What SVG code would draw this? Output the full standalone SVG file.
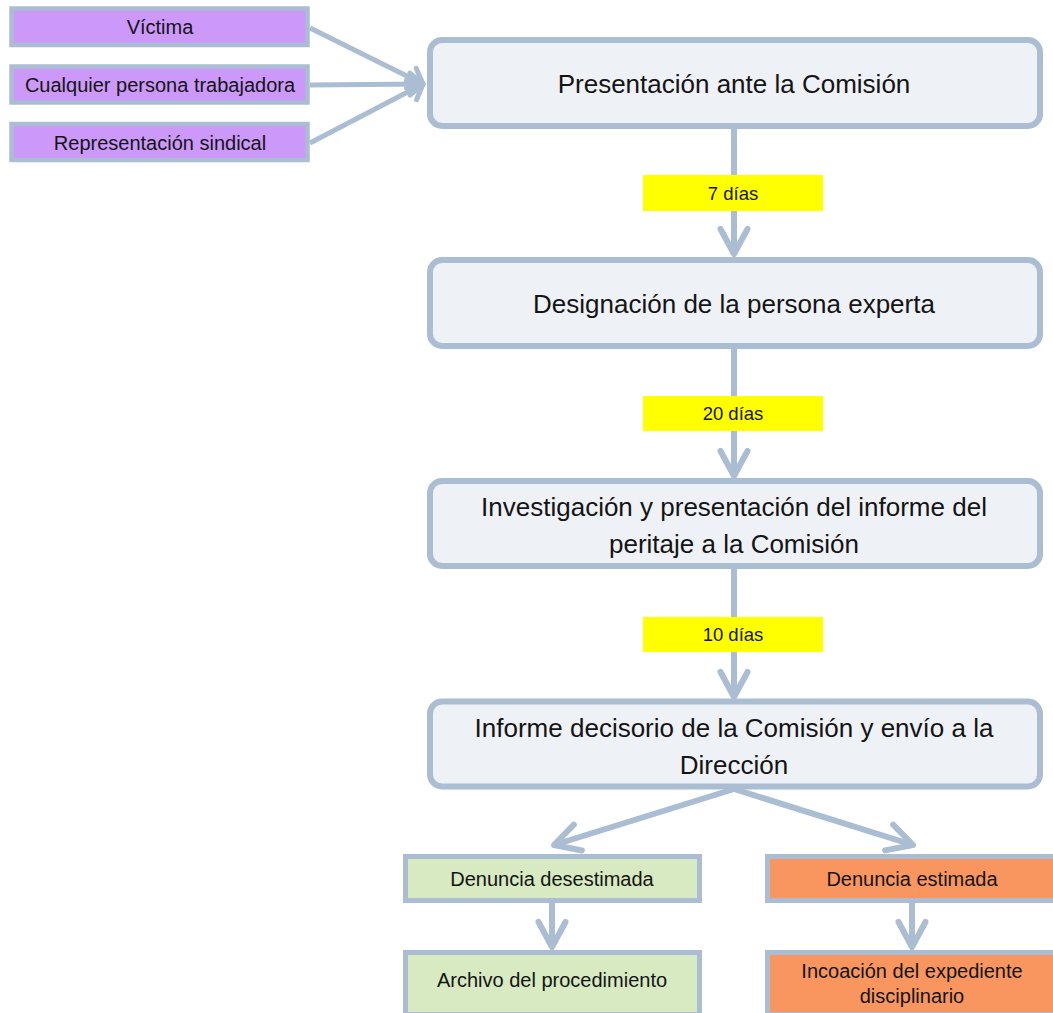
<svg xmlns="http://www.w3.org/2000/svg" width="1053" height="1013" viewBox="0 0 1053 1013">
<style>
  .conn { stroke: #aabdd2; stroke-width: 6; fill: none; }
  .thin { stroke-width: 5; }
  .main { fill: #eef1f6; stroke: #aabdd2; stroke-width: 6; }
  .purple { fill: #cc99fb; stroke: #aabdd2; stroke-width: 4.5; }
  .green { fill: #d7eac1; stroke: #aabdd2; stroke-width: 5; }
  .orange { fill: #f9965f; stroke: #aabdd2; stroke-width: 5; }
  .yellow { fill: #ffff00; }
  text { font-family: "Liberation Sans", Arial, sans-serif; fill: #141414; text-anchor: middle; }
  .t26 { font-size: 26px; }
  .t20 { font-size: 20px; }
  .t18 { font-size: 18.5px; }
</style>
<defs>
  <marker id="chev" markerUnits="userSpaceOnUse" viewBox="-32 -20 38 40" markerWidth="38" markerHeight="40" refX="0" refY="0" orient="auto" overflow="visible">
    <path d="M -25,-13.5 L 0,0 L -25,13.5" fill="none" stroke="#aabdd2" stroke-width="6" stroke-linecap="round" stroke-linejoin="round"/>
  </marker>
  <marker id="chevs" markerUnits="userSpaceOnUse" viewBox="-20 -16 26 32" markerWidth="26" markerHeight="32" refX="0" refY="0" orient="auto" overflow="visible">
    <path d="M -13,-11 L 0,0 L -13,11" fill="none" stroke="#aabdd2" stroke-width="5" stroke-linecap="round" stroke-linejoin="round"/>
  </marker>
</defs>
<rect width="1053" height="1013" fill="#ffffff"/>

<g id="connectors">
  <line class="conn thin" x1="310" y1="28" x2="423" y2="84" marker-end="url(#chevs)"/>
  <line class="conn thin" x1="310" y1="85" x2="423" y2="84" marker-end="url(#chevs)"/>
  <line class="conn thin" x1="310" y1="143" x2="423" y2="84" marker-end="url(#chevs)"/>
  <line class="conn" x1="734" y1="126" x2="734" y2="254" marker-end="url(#chev)"/>
  <line class="conn" x1="734" y1="346" x2="734" y2="476" marker-end="url(#chev)"/>
  <line class="conn" x1="734" y1="566" x2="734" y2="697" marker-end="url(#chev)"/>
  <line class="conn" x1="734" y1="789" x2="554" y2="845" marker-end="url(#chev)"/>
  <line class="conn" x1="734" y1="789" x2="913" y2="845" marker-end="url(#chev)"/>
  <line class="conn" x1="552" y1="903" x2="552" y2="947" marker-end="url(#chev)"/>
  <line class="conn" x1="912" y1="903" x2="912" y2="947" marker-end="url(#chev)"/>
</g>

<g id="labels">
  <g id="label-7">
    <rect class="yellow" x="643" y="175" width="180" height="36"/>
    <text class="t18" x="733" y="199.5">7 días</text>
  </g>
  <g id="label-20">
    <rect class="yellow" x="643" y="396" width="180" height="35"/>
    <text class="t18" x="733" y="420">20 días</text>
  </g>
  <g id="label-10">
    <rect class="yellow" x="643" y="617" width="180" height="35"/>
    <text class="t18" x="733" y="641">10 días</text>
  </g>
</g>

<g id="victima">
  <rect class="purple" x="11.5" y="8.5" width="296" height="36.5"/>
  <text class="t20" x="160" y="34">Víctima</text>
</g>
<g id="cualquier">
  <rect class="purple" x="11.5" y="66.5" width="296" height="36"/>
  <text class="t20" x="160" y="92">Cualquier persona trabajadora</text>
</g>
<g id="representacion">
  <rect class="purple" x="11.5" y="124" width="296" height="36"/>
  <text class="t20" x="160" y="149.5">Representación sindical</text>
</g>

<g id="presentacion">
  <rect class="main" x="430" y="40" width="610" height="86" rx="12"/>
  <text class="t26" x="734" y="93">Presentación ante la Comisión</text>
</g>
<g id="designacion">
  <rect class="main" x="430" y="260" width="610" height="86" rx="12"/>
  <text class="t26" x="734" y="313">Designación de la persona experta</text>
</g>
<g id="investigacion">
  <rect class="main" x="430" y="481" width="610" height="85" rx="12"/>
  <text class="t26" x="734" y="516">Investigación y presentación del informe del</text>
  <text class="t26" x="734" y="553">peritaje a la Comisión</text>
</g>
<g id="informe">
  <rect class="main" x="430" y="701.5" width="610" height="85" rx="12"/>
  <text class="t26" x="734" y="737">Informe decisorio de la Comisión y envío a la</text>
  <text class="t26" x="734" y="774">Dirección</text>
</g>

<g id="desestimada">
  <rect class="green" x="405.5" y="856.5" width="294" height="44"/>
  <text class="t20" x="552" y="886">Denuncia desestimada</text>
</g>
<g id="estimada">
  <rect class="orange" x="767.5" y="856.5" width="294" height="44"/>
  <text class="t20" x="912" y="886">Denuncia estimada</text>
</g>
<g id="archivo">
  <rect class="green" x="405.5" y="952.5" width="294" height="62"/>
  <text class="t20" x="552" y="987">Archivo del procedimiento</text>
</g>
<g id="incoacion">
  <rect class="orange" x="767.5" y="952.5" width="294" height="62"/>
  <text class="t20" x="912" y="978">Incoación del expediente</text>
  <text class="t20" x="912" y="1003">disciplinario</text>
</g>
</svg>
